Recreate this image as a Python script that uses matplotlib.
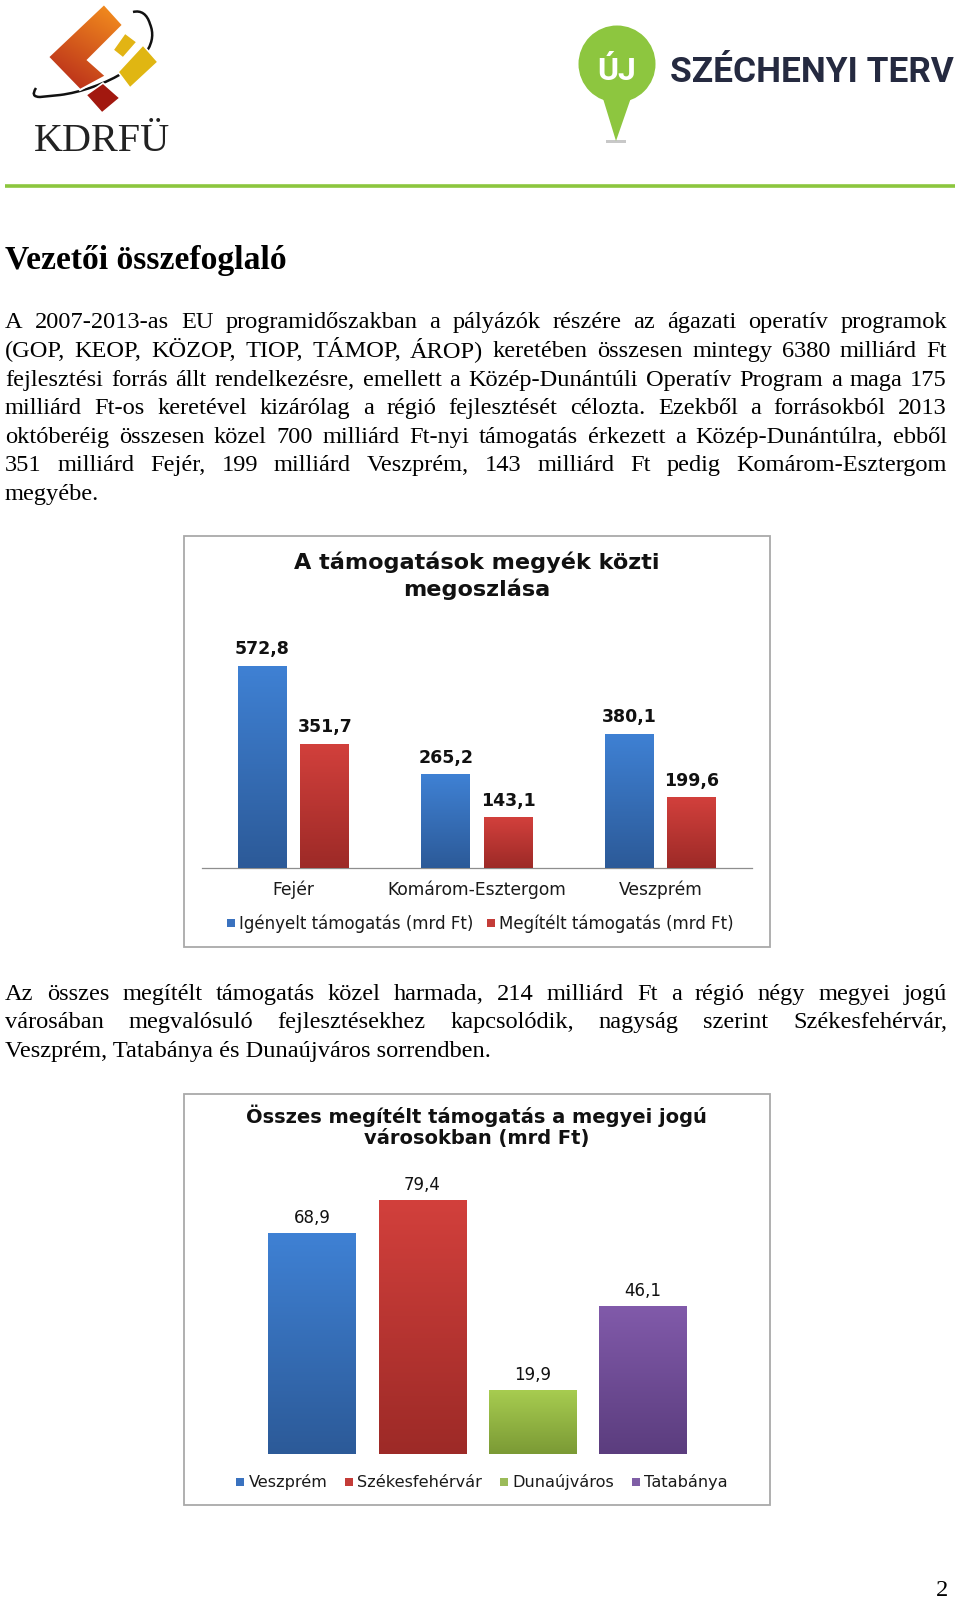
import numpy as np
import matplotlib
matplotlib.use('Agg')
import matplotlib.pyplot as plt
from matplotlib.patches import Polygon, Circle, Rectangle, PathPatch
from matplotlib.path import Path
from matplotlib.colors import LinearSegmentedColormap, to_rgb

# ---------------- data ----------------
counties = ['Fejér', 'Komárom-Esztergom', 'Veszprém']
requested = [572.8, 265.2, 380.1]
awarded = [351.7, 143.1, 199.6]
series_names = ['Igényelt támogatás (mrd Ft)', 'Megítélt támogatás (mrd Ft)']
chart1_title = ['A támogatások megyék közti', 'megoszlása']

cities = ['Veszprém', 'Székesfehérvár', 'Dunaújváros', 'Tatabánya']
city_awarded = [68.9, 79.4, 19.9, 46.1]
chart2_title = ['Összes megítélt támogatás a megyei jogú', 'városokban (mrd Ft)']

heading = 'Vezetői összefoglaló'
para1 = [
    'A 2007-2013-as EU programidőszakban a pályázók részére az ágazati operatív programok',
    '(GOP, KEOP, KÖZOP, TIOP, TÁMOP, ÁROP) keretében összesen mintegy 6380 milliárd Ft',
    'fejlesztési forrás állt rendelkezésre, emellett a Közép-Dunántúli Operatív Program a maga 175',
    'milliárd Ft-os keretével kizárólag a régió fejlesztését célozta. Ezekből a forrásokból 2013',
    'októberéig összesen közel 700 milliárd Ft-nyi támogatás érkezett a Közép-Dunántúlra, ebből',
    '351 milliárd Fejér, 199 milliárd Veszprém, 143 milliárd Ft pedig Komárom-Esztergom',
    'megyébe.',
]
para2 = [
    'Az összes megítélt támogatás közel harmada, 214 milliárd Ft a régió négy megyei jogú',
    'városában megvalósuló fejlesztésekhez kapcsolódik, nagyság szerint Székesfehérvár,',
    'Veszprém, Tatabánya és Dunaújváros sorrendben.',
]
page_number = '2'
logo1_text = 'KDRFÜ'
logo2_badge = 'ÚJ'
logo2_text = 'SZÉCHENYI TERV'

# colours (top, bottom) of gradient bars
BLUE = ('#3f81d4', '#2c5a98')
RED = ('#d2403c', '#9d2a27')
GREEN = ('#a7cc50', '#7b9a35')
PURPLE = ('#815aaa', '#5b3d7e')
LEG1 = ['#3a72bf', '#c43c38']
LEG2 = ['#3a72bf', '#c43c38', '#9bbb59', '#7f5ea6']

W, H = 960, 1599
fig = plt.figure(figsize=(9.6, 15.99), dpi=100)
page = fig.add_axes([0, 0, 1, 1])
page.set_xlim(0, W)
page.set_ylim(H, 0)
page.axis('off')
renderer = fig.canvas.get_renderer()

SERIF = ['Liberation Serif', 'DejaVu Serif']
SANS = ['DejaVu Sans']
LOGOFONT = ['Roboto', 'DejaVu Sans']


def text_width(s, ax=page, **kw):
    t = ax.text(0, 0, s, **kw)
    w = t.get_window_extent(renderer).width
    t.remove()
    return w


# ---------------- logos ----------------
# KDRFÜ swoosh
sw = Path([(36, 88), (30, 97), (40, 97), (60, 95), (100, 90), (165, 60), (150, 24),
           (147, 14), (141, 10), (133, 12)],
          [Path.MOVETO, Path.CURVE3, Path.CURVE3, Path.LINETO, Path.CURVE4, Path.CURVE4, Path.CURVE4,
           Path.CURVE4, Path.CURVE4, Path.CURVE4])
page.add_patch(PathPatch(sw, fill=False, edgecolor='#111111', lw=1.8, zorder=2))

orange_pts = [(48, 57), (104, 4), (123, 25), (88, 60), (106, 76), (80, 90)]
orange = Polygon(orange_pts, closed=True, facecolor='none', edgecolor='white', lw=1.5, zorder=4)
page.add_patch(orange)
xs = np.linspace(0, 1, 80)
ys = np.linspace(0, 1, 80)
XX, YY = np.meshgrid(xs, ys)
T = np.clip(0.65 * YY + 0.35 * (1 - XX), 0, 1)
c0, c1 = np.array(to_rgb('#f7941e')), np.array(to_rgb('#b3231a'))
img = c0[None, None, :] * (1 - T[..., None]) + c1[None, None, :] * T[..., None]
im = page.imshow(img, extent=[48, 123, 90, 4], origin='upper', aspect='auto', zorder=3)
im.set_clip_path(orange)
page.add_patch(Polygon([(113, 50), (125, 33), (137, 42), (123, 58)], closed=True,
                       facecolor='#e2b414', edgecolor='white', lw=1.2, zorder=4))
page.add_patch(Polygon([(118, 72), (143, 45), (158, 62), (130, 88)], closed=True,
                       facecolor='#e0b612', edgecolor='white', lw=1.2, zorder=4))
page.add_patch(Polygon([(86, 95), (103, 83), (120, 98), (102, 113)], closed=True,
                       facecolor='#a2180f', edgecolor='white', lw=1.2, zorder=4))
fs1 = 10 * 137 / text_width(logo1_text, family=SERIF, fontsize=10)
page.text(34, 151, logo1_text, family=SERIF, fontsize=fs1, color='#222222', ha='left', va='baseline')

# Széchenyi pin
GR = '#8dc63f'
page.add_patch(Polygon([(601, 92), (633, 92), (616, 141)], closed=True, facecolor=GR, edgecolor='none', zorder=3))
page.add_patch(Circle((617, 64), 38.5, facecolor=GR, edgecolor='none', zorder=3))
page.add_patch(Rectangle((606, 140), 20, 2.5, facecolor='#c8c8c8', edgecolor='none', zorder=2))
page.text(617, 80, logo2_badge, family=LOGOFONT, fontweight='bold', fontsize=23,
          color='white', ha='center', va='baseline', zorder=4)
fs = 10 * 283 / text_width(logo2_text, family=LOGOFONT, fontweight='bold', fontsize=10)
page.text(670, 82, logo2_text, family=LOGOFONT, fontweight='bold', fontsize=fs,
          color='#252a40', ha='left', va='baseline')

# green rule
page.plot([5, 955], [186, 186], color='#8cc63e', lw=2.6, solid_capstyle='butt')

# ---------------- body text ----------------
BODY = dict(family=SERIF, fontsize=17.6, color='black')
page.text(5, 269, heading, family=SERIF, fontweight='bold', fontsize=24.2, color='black', va='baseline')


def draw_par(lines, y0, x0=5, x1=947, lh=28.6):
    for i, line in enumerate(lines):
        y = y0 + i * lh
        words = line.split(' ')
        if i == len(lines) - 1 or len(words) == 1:
            page.text(x0, y, line, va='baseline', ha='left', **BODY)
            continue
        ws = [text_width(w, **BODY) for w in words]
        gap = (x1 - x0 - sum(ws)) / (len(words) - 1)
        x = x0
        for w, wd in zip(words, ws):
            page.text(x, y, w, va='baseline', ha='left', **BODY)
            x += wd + gap


draw_par(para1, 328.4)
draw_par(para2, 999.6)
page.text(948, 1595.5, page_number, ha='right', va='baseline', **BODY)

# chart frames
for y0 in (536, 1094):
    page.add_patch(Rectangle((184, y0), 586, 411, facecolor='white', edgecolor='#a9a9a9', lw=1.3, zorder=1))


def grad_bars(ax, bars, top, bottom):
    cmap = LinearSegmentedColormap.from_list('g', [bottom, top])
    g = np.linspace(0, 1, 128).reshape(-1, 1)
    for b in bars:
        x0, w, h = b.get_x(), b.get_width(), b.get_height()
        im = ax.imshow(g, extent=[x0, x0 + w, 0, h], origin='lower', cmap=cmap,
                       aspect='auto', zorder=3, interpolation='bilinear')
        im.set_clip_path(b)


def fmt(v):
    return f'{v:.1f}'.replace('.', ',')


def legend(names, colors, y, xc, fsz, gap_items):
    sq, gap = 8, 4
    widths = [text_width(n, family=SANS, fontsize=fsz) for n in names]
    total = sum(sq + gap + w for w in widths) + gap_items * (len(names) - 1)
    x = xc - total / 2
    for n, c, w in zip(names, colors, widths):
        page.add_patch(Rectangle((x, y - sq / 2), sq, sq, facecolor=c, edgecolor='none', zorder=5))
        page.text(x + sq + gap, y, n, family=SANS, fontsize=fsz, color='#1a1a1a', va='center', ha='left', zorder=5)
        x += sq + gap + w + gap_items


# ---------------- chart 1 ----------------
ax1 = fig.add_axes([202 / W, 1 - 868 / H, 550 / W, 700 * 0.3535 / H])
ax1.set_facecolor('none')
x = np.arange(len(counties))
bw, off = 0.267, 0.17
b1 = ax1.bar(x - off, requested, bw, color=BLUE[1], zorder=2)
b2 = ax1.bar(x + off, awarded, bw, color=RED[1], zorder=2)
grad_bars(ax1, b1, *BLUE)
grad_bars(ax1, b2, *RED)
for bars, vals in ((b1, requested), (b2, awarded)):
    for b, v in zip(bars, vals):
        ax1.annotate(fmt(v), xy=(b.get_x() + b.get_width() / 2, v), xytext=(0, 16.5),
                     textcoords='offset pixels', ha='center', va='center',
                     family=SANS, fontweight='bold', fontsize=12.5, color='#111111')
for i, c in enumerate(counties):
    ax1.annotate(c, xy=(i, 0), xytext=(0, -21.5), textcoords='offset pixels', ha='center', va='center',
                 family=SANS, fontsize=12.3, color='#1a1a1a')
ax1.set_xlim(-0.5, len(counties) - 0.5)
ax1.set_ylim(0, 700)
ax1.set_xticks([])
ax1.set_yticks([])
for s in ('top', 'left', 'right'):
    ax1.spines[s].set_visible(False)
ax1.spines['bottom'].set_color('#8e8e8e')
ax1.spines['bottom'].set_linewidth(0.9)
for i, t in enumerate(chart1_title):
    page.text(476.4, 562 + i * 27.7, t, family=SANS, fontweight='bold', fontsize=16.1,
              color='#111111', ha='center', va='center')
legend(series_names, LEG1, 923.3, 480.5, 12.0, 14)

# ---------------- chart 2 ----------------
ax2 = fig.add_axes([257.1 / W, 1 - 1453.8 / H, 440.8 / W, 90 * 3.198 / H])
ax2.set_facecolor('none')
x2 = np.arange(len(cities))
bars2 = ax2.bar(x2, city_awarded, 0.796, color=[BLUE[1], RED[1], GREEN[1], PURPLE[1]], zorder=2)
for b, col in zip(bars2, (BLUE, RED, GREEN, PURPLE)):
    grad_bars(ax2, [b], *col)
for b, v in zip(bars2, city_awarded):
    ax2.annotate(fmt(v), xy=(b.get_x() + b.get_width() / 2, v), xytext=(0, 15.3),
                 textcoords='offset pixels', ha='center', va='center',
                 family=SANS, fontsize=12, color='#111111')
ax2.set_xlim(-0.5, len(cities) - 0.5)
ax2.set_ylim(0, 90)
ax2.set_xticks([])
ax2.set_yticks([])
for s in ax2.spines.values():
    s.set_visible(False)
for i, t in enumerate(chart2_title):
    page.text(476.4, 1116 + i * 22.5, t, family=SANS, fontweight='bold', fontsize=14,
              color='#111111', ha='center', va='center')
legend(cities, LEG2, 1482.4, 482, 11.6, 18)

page.set_xlim(0, W)
page.set_ylim(H, 0)
fig.savefig('out.png', dpi=100)
